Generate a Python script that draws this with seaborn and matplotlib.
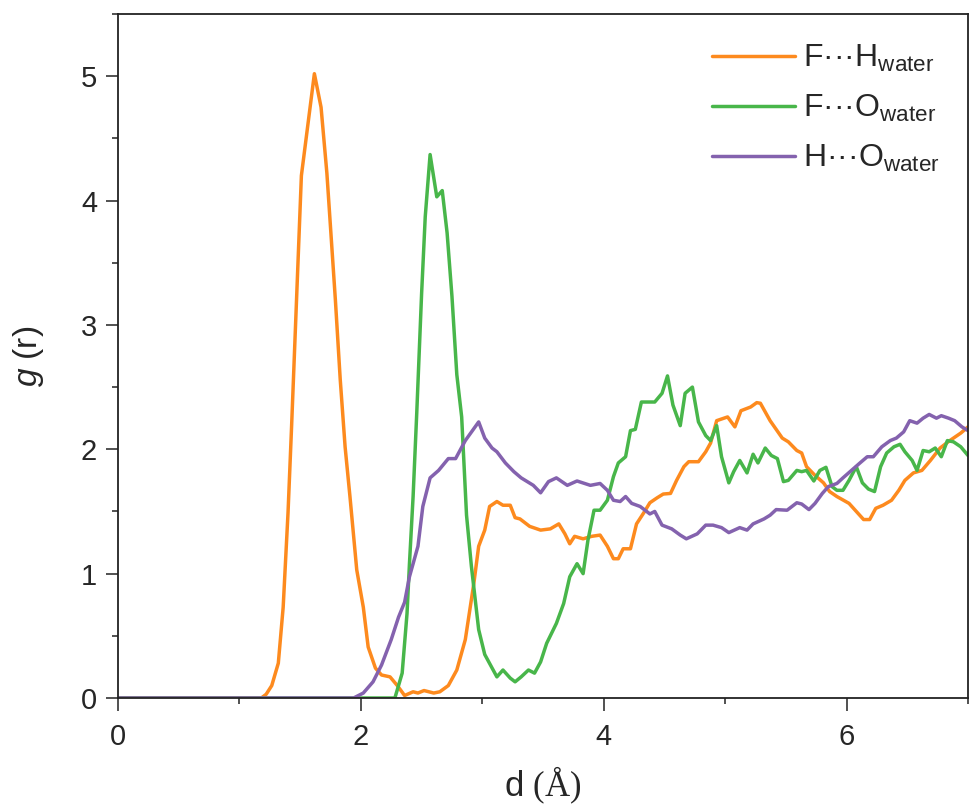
import numpy as np
import pandas as pd
import matplotlib
matplotlib.use("Agg")
import matplotlib.pyplot as plt
import seaborn as sns
from matplotlib.ticker import MultipleLocator

# ---- data ----
fh_x = [0, 1.18, 1.22, 1.266, 1.32, 1.36, 1.40, 1.43, 1.47, 1.51, 1.617, 1.672, 1.72, 1.79, 1.83, 1.87,
        1.91, 1.966, 2.02, 2.06, 2.12, 2.17, 2.24, 2.30, 2.36, 2.43, 2.47, 2.52, 2.56, 2.60, 2.65, 2.72,
        2.79, 2.86, 2.93, 2.97, 3.02, 3.06, 3.12, 3.17, 3.23, 3.27, 3.31, 3.39, 3.48, 3.56, 3.63, 3.68,
        3.72, 3.76, 3.83, 3.90, 3.97, 4.03, 4.08, 4.12, 4.16, 4.22, 4.27, 4.33, 4.38, 4.44, 4.49, 4.55,
        4.60, 4.66, 4.70, 4.78, 4.84, 4.88, 4.93, 5.02, 5.08, 5.13, 5.21, 5.26, 5.29, 5.37, 5.47, 5.52,
        5.59, 5.63, 5.67, 5.74, 5.81, 5.86, 5.92, 6.02, 6.08, 6.14, 6.19, 6.24, 6.30, 6.37, 6.43, 6.48,
        6.55, 6.62, 6.69, 6.77, 6.85, 6.94, 7.0]
fh_y = [0, 0.0, 0.03, 0.10, 0.28, 0.73, 1.49, 2.2, 3.2, 4.2, 5.02, 4.75, 4.22, 3.2, 2.56, 2.02,
        1.62, 1.03, 0.73, 0.41, 0.24, 0.185, 0.17, 0.10, 0.02, 0.05, 0.04, 0.06, 0.05, 0.04, 0.05, 0.10,
        0.225, 0.47, 0.92, 1.22, 1.35, 1.54, 1.58, 1.55, 1.55, 1.45, 1.44, 1.38, 1.35, 1.36, 1.40, 1.32,
        1.24, 1.30, 1.28, 1.30, 1.31, 1.22, 1.12, 1.12, 1.20, 1.20, 1.40, 1.49, 1.57, 1.61, 1.64, 1.645,
        1.75, 1.86, 1.90, 1.90, 1.98, 2.05, 2.23, 2.26, 2.18, 2.31, 2.34, 2.375, 2.37, 2.23, 2.09, 2.06,
        1.99, 1.97, 1.86, 1.79, 1.73, 1.66, 1.62, 1.565, 1.50, 1.435, 1.435, 1.525, 1.55, 1.59, 1.67, 1.75,
        1.81, 1.83, 1.91, 2.01, 2.07, 2.13, 2.18]

fo_x = [0, 2.28, 2.34, 2.38, 2.40, 2.43, 2.46, 2.50, 2.53, 2.57, 2.625, 2.67, 2.71, 2.75, 2.79, 2.83,
        2.87, 2.91, 2.97, 3.02, 3.12, 3.17, 3.23, 3.27, 3.32, 3.38, 3.43, 3.48, 3.53, 3.61, 3.67, 3.72,
        3.78, 3.83, 3.87, 3.92, 3.97, 4.03, 4.08, 4.12, 4.18, 4.22, 4.26, 4.31, 4.37, 4.42, 4.48, 4.525,
        4.57, 4.63, 4.67, 4.73, 4.78, 4.84, 4.88, 4.93, 4.97, 5.03, 5.07, 5.12, 5.18, 5.23, 5.27, 5.33,
        5.38, 5.43, 5.48, 5.52, 5.59, 5.63, 5.67, 5.73, 5.78, 5.83, 5.88, 5.92, 5.97, 6.02, 6.08, 6.13,
        6.18, 6.23, 6.28, 6.33, 6.39, 6.44, 6.48, 6.54, 6.58, 6.63, 6.68, 6.73, 6.78, 6.83, 6.88, 6.94, 7.0]
fo_y = [0, 0, 0.2, 0.68, 1.08, 1.62, 2.29, 3.25, 3.87, 4.37, 4.03, 4.08, 3.74, 3.23, 2.60, 2.26,
        1.47, 1.06, 0.55, 0.35, 0.17, 0.225, 0.16, 0.13, 0.17, 0.225, 0.20, 0.29, 0.44, 0.60, 0.76, 0.975,
        1.08, 1.00, 1.27, 1.51, 1.51, 1.59, 1.78, 1.89, 1.94, 2.15, 2.16, 2.38, 2.38, 2.38, 2.45, 2.59,
        2.355, 2.19, 2.45, 2.50, 2.22, 2.11, 2.07, 2.19, 1.94, 1.73, 1.82, 1.91, 1.81, 1.96, 1.89, 2.01,
        1.95, 1.925, 1.74, 1.75, 1.83, 1.82, 1.83, 1.745, 1.83, 1.855, 1.70, 1.67, 1.67, 1.75, 1.86, 1.73,
        1.68, 1.66, 1.86, 1.97, 2.02, 2.04, 1.98, 1.91, 1.83, 1.99, 1.98, 2.01, 1.94, 2.07, 2.06, 2.02, 1.95]

ho_x = [0, 1.94, 2.02, 2.10, 2.17, 2.25, 2.31, 2.36, 2.40, 2.47, 2.51, 2.57, 2.64, 2.72, 2.78, 2.86,
        2.97, 3.02, 3.08, 3.12, 3.19, 3.26, 3.32, 3.42, 3.48, 3.545, 3.61, 3.70, 3.78, 3.89, 3.97, 4.03,
        4.08, 4.135, 4.18, 4.23, 4.30, 4.38, 4.42, 4.48, 4.56, 4.63, 4.68, 4.77, 4.84, 4.90, 4.97, 5.03,
        5.12, 5.18, 5.23, 5.32, 5.37, 5.42, 5.51, 5.59, 5.63, 5.69, 5.74, 5.80, 5.85, 5.92, 5.97, 6.04,
        6.11, 6.17, 6.22, 6.29, 6.36, 6.41, 6.47, 6.52, 6.58, 6.63, 6.68, 6.74, 6.78, 6.84, 6.89, 6.95, 7.0]
ho_y = [0, 0, 0.04, 0.13, 0.265, 0.47, 0.65, 0.77, 0.975, 1.22, 1.54, 1.77, 1.83, 1.925, 1.925, 2.07,
        2.22, 2.09, 2.01, 1.98, 1.89, 1.82, 1.77, 1.71, 1.65, 1.74, 1.77, 1.71, 1.745, 1.71, 1.725, 1.67,
        1.59, 1.58, 1.62, 1.565, 1.54, 1.48, 1.50, 1.39, 1.36, 1.31, 1.28, 1.32, 1.39, 1.39, 1.37, 1.33,
        1.37, 1.35, 1.40, 1.44, 1.47, 1.515, 1.51, 1.57, 1.56, 1.515, 1.565, 1.645, 1.70, 1.725, 1.77, 1.83,
        1.89, 1.94, 1.94, 2.02, 2.07, 2.09, 2.14, 2.23, 2.21, 2.25, 2.28, 2.25, 2.27, 2.25, 2.23, 2.18, 2.15]

labels = ["F\u00b7\u00b7\u00b7H$_{\\mathregular{water}}$",
          "F\u00b7\u00b7\u00b7O$_{\\mathregular{water}}$",
          "H\u00b7\u00b7\u00b7O$_{\\mathregular{water}}$"]
colors = ["#FD8A1E", "#48B64A", "#8462AE"]

x_ticks = [0, 2, 4, 6]
y_ticks = [0, 1, 2, 3, 4, 5]

df = pd.concat([
    pd.DataFrame({"d": fh_x, "g": fh_y, "pair": labels[0]}),
    pd.DataFrame({"d": fo_x, "g": fo_y, "pair": labels[1]}),
    pd.DataFrame({"d": ho_x, "g": ho_y, "pair": labels[2]}),
], ignore_index=True)

sns.set_style("ticks")
plt.rcParams["font.family"] = ["Liberation Sans", "DejaVu Sans"]
plt.rcParams["mathtext.fontset"] = "custom"
plt.rcParams["mathtext.rm"] = "Liberation Sans"
plt.rcParams["mathtext.it"] = "Liberation Sans:italic"
plt.rcParams["mathtext.sf"] = "Liberation Serif"
plt.rcParams["mathtext.default"] = "regular"

fig = plt.figure(figsize=(9.69, 8.09), dpi=100)
ax = fig.add_axes([0.1218, 0.1372, 0.8772, 0.8455])

sns.lineplot(data=df, x="d", y="g", hue="pair", palette=dict(zip(labels, colors)),
             estimator=None, sort=False, linewidth=2.5, ax=ax)

ax.set_xlim(0, 7)
ax.set_ylim(0, 5.5)
ax.set_xticks(x_ticks)
ax.set_yticks(y_ticks)
ax.xaxis.set_minor_locator(MultipleLocator(1))
ax.yaxis.set_minor_locator(MultipleLocator(0.5))
ax.tick_params(which="major", direction="out", length=9, width=1.2, labelsize=21, color="#333333")
ax.tick_params(axis="x", which="major", pad=9)
ax.tick_params(axis="y", which="major", pad=6)
ax.tick_params(which="minor", direction="out", length=4, width=1.2, color="#333333")
for s in ax.spines.values():
    s.set_visible(True)
    s.set_linewidth(1.3)
    s.set_color("#222222")

ax.set_xlabel("d $\\mathsf{(\u00c5)}$", fontsize=25, labelpad=10)
ax.set_ylabel("$\\mathit{g}$ (r)", fontsize=24, labelpad=25)

ax.legend(loc="upper right", frameon=False, fontsize=23, handlelength=2.6,
          handletextpad=0.25, labelspacing=0.6, borderaxespad=0.5)

fig.savefig("out.png", dpi=100)
